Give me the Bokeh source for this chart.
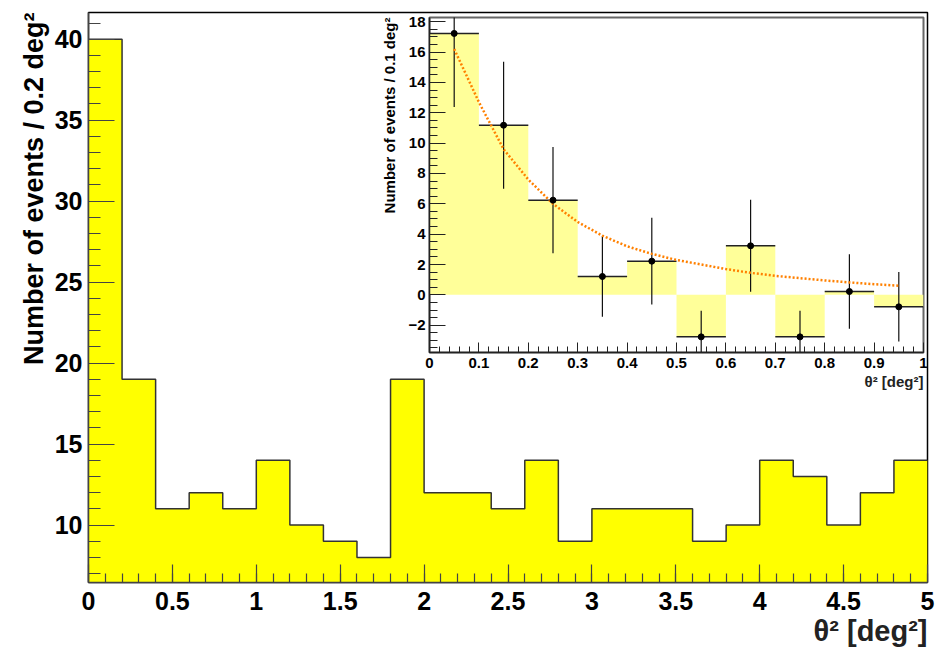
from bokeh.plotting import figure
from bokeh.models import Range1d, Title, FixedTicker, GridBox
from bokeh.embed import file_html
from bokeh.resources import INLINE

# ---------------- data ----------------
main_bin_lo = [0.0, 0.2, 0.4, 0.6, 0.8, 1.0, 1.2, 1.4, 1.6, 1.8, 2.0, 2.2, 2.4,
               2.6, 2.8, 3.0, 3.2, 3.4, 3.6, 3.8, 4.0, 4.2, 4.4, 4.6, 4.8]
main_bin_hi = [0.2, 0.4, 0.6, 0.8, 1.0, 1.2, 1.4, 1.6, 1.8, 2.0, 2.2, 2.4, 2.6,
               2.8, 3.0, 3.2, 3.4, 3.6, 3.8, 4.0, 4.2, 4.4, 4.6, 4.8, 5.0]
main_counts = [40, 19, 11, 12, 11, 14, 10, 9, 8, 19, 12, 12, 11, 14, 9, 11, 11,
               11, 9, 10, 14, 13, 10, 12, 14]

main_xticks = [0, 0.5, 1, 1.5, 2, 2.5, 3, 3.5, 4, 4.5, 5]
main_xtick_labels = ["0", "0.5", "1", "1.5", "2", "2.5", "3", "3.5", "4", "4.5", "5"]
main_yticks = [10, 15, 20, 25, 30, 35, 40]

inset_bin_lo = [0.0, 0.1, 0.2, 0.3, 0.4, 0.5, 0.6, 0.7, 0.8, 0.9]
inset_bin_hi = [0.1, 0.2, 0.3, 0.4, 0.5, 0.6, 0.7, 0.8, 0.9, 1.0]
inset_centers = [0.05, 0.15, 0.25, 0.35, 0.45, 0.55, 0.65, 0.75, 0.85, 0.95]
inset_values = [17.23, 11.18, 6.24, 1.21, 2.22, -2.77, 3.23, -2.77, 0.22, -0.79]
inset_errors = [4.85, 4.18, 3.50, 2.65, 2.86, 1.73, 3.03, 1.73, 2.45, 2.29]

fit_x = [0.05, 0.10, 0.15, 0.20, 0.25, 0.30, 0.35, 0.40, 0.45, 0.50, 0.55,
         0.60, 0.65, 0.70, 0.75, 0.80, 0.85, 0.90, 0.95]
fit_y = [16.2, 12.7, 9.6, 7.6, 6.0, 4.8, 3.9, 3.2, 2.7, 2.3, 2.0, 1.7, 1.45,
         1.25, 1.1, 0.95, 0.82, 0.70, 0.60]

inset_xticks = [0, 0.1, 0.2, 0.3, 0.4, 0.5, 0.6, 0.7, 0.8, 0.9, 1.0]
inset_xtick_labels = ["0", "0.1", "0.2", "0.3", "0.4", "0.5", "0.6", "0.7", "0.8", "0.9", "1"]
inset_yticks = [-2, 0, 2, 4, 6, 8, 10, 12, 14, 16, 18]

FONT = "Liberation Sans"
AXIS_COL = "#444444"

# ---------------- main figure ----------------
p = figure(frame_width=839, frame_height=570,
           min_border_left=88, min_border_top=12, min_border_right=15, min_border_bottom=66,
           x_range=Range1d(0, 5), y_range=Range1d(6.45, 41.65),
           output_backend="svg", toolbar_location=None,
           outline_line_color="black", outline_line_width=1.5,
           frame_align=False)
p.xgrid.visible = False
p.ygrid.visible = False

step_x = main_bin_lo + [main_bin_hi[-1]]
step_y = main_counts + [main_counts[-1]]
p.varea_step(x=step_x, y1=[0] * len(step_x), y2=step_y, step_mode="after",
             fill_color="#ffff00")
p.step(x=step_x, y=step_y, mode="after", line_color="#333333", line_width=1.5)

minor_x = [i / 10 for i in range(0, 51)]
p.xaxis.ticker = FixedTicker(ticks=main_xticks, minor_ticks=minor_x)
p.xaxis.major_label_overrides = {t: l for t, l in zip(main_xticks, main_xtick_labels)}
p.yaxis.ticker = FixedTicker(ticks=main_yticks, minor_ticks=list(range(6, 42)))

for ax in (p.xaxis[0], p.yaxis[0]):
    ax.axis_line_color = AXIS_COL
    ax.axis_line_width = 1.5
    ax.major_tick_line_color = AXIS_COL
    ax.minor_tick_line_color = AXIS_COL
    ax.major_tick_line_width = 1.2
    ax.minor_tick_line_width = 1.2
    ax.major_tick_out = 0
    ax.minor_tick_out = 0
    ax.major_label_text_font = FONT
    ax.major_label_text_font_style = "bold"
    ax.major_label_text_font_size = "25px"
    ax.major_label_text_color = "black"

p.yaxis.major_tick_in = 26
p.yaxis.minor_tick_in = 12
p.yaxis.major_label_standoff = 6
p.xaxis.major_tick_in = 18
p.xaxis.minor_tick_in = 9
p.xaxis.major_label_standoff = 9

p.add_layout(Title(text="Number of events / 0.2 deg²", align="right",
                   text_font=FONT, text_font_style="bold", text_font_size="27px",
                   text_color="black", standoff=6), "left")
p.add_layout(Title(text="θ² [deg²]", align="right",
                   text_font=FONT, text_font_style="bold", text_font_size="29px",
                   text_color="#222222", standoff=0), "below")

# ---------------- inset figure ----------------
q = figure(frame_width=494, frame_height=335,
           min_border_left=429, min_border_top=17, min_border_right=19, min_border_bottom=296,
           x_range=Range1d(0, 1), y_range=Range1d(-3.8, 18.28),
           output_backend="svg", toolbar_location=None,
           background_fill_alpha=0, border_fill_alpha=0,
           outline_line_color="#666666", outline_line_width=2,
           frame_align=False)
q.xgrid.visible = False
q.ygrid.visible = False

ix = inset_bin_lo + [inset_bin_hi[-1]]
iy = inset_values + [inset_values[-1]]
q.varea_step(x=ix, y1=[0] * len(ix), y2=iy, step_mode="after", fill_color="#ffff99")
err_lo = [v - e for v, e in zip(inset_values, inset_errors)]
err_hi = [v + e for v, e in zip(inset_values, inset_errors)]
q.segment(x0=inset_bin_lo, x1=inset_bin_hi, y0=inset_values, y1=inset_values,
          line_color="#222222", line_width=1.5)
q.segment(x0=inset_centers, x1=inset_centers, y0=err_lo, y1=err_hi,
          line_color="#111111", line_width=1.2)
q.line(fit_x, fit_y, line_color="#ff8000", line_width=2.5, line_dash="2 2")
q.scatter(inset_centers, inset_values, size=6, color="black")

q.xaxis.ticker = FixedTicker(ticks=inset_xticks, minor_ticks=[i / 50 for i in range(0, 51)])
q.xaxis.major_label_overrides = {t: l for t, l in zip(inset_xticks, inset_xtick_labels)}
q.yaxis.ticker = FixedTicker(ticks=inset_yticks, minor_ticks=[i / 2 for i in range(-7, 37)])

for ax in (q.xaxis[0], q.yaxis[0]):
    ax.axis_line_color = "#222222"
    ax.axis_line_width = 1.5
    ax.major_tick_line_color = "#222222"
    ax.minor_tick_line_color = "#222222"
    ax.major_tick_out = 0
    ax.minor_tick_out = 0
    ax.major_label_text_font = FONT
    ax.major_label_text_font_style = "bold"
    ax.major_label_text_font_size = "15px"
    ax.major_label_text_color = "black"

q.yaxis.major_tick_in = 16
q.yaxis.minor_tick_in = 8
q.yaxis.major_label_standoff = 4
q.xaxis.major_tick_in = 10
q.xaxis.minor_tick_in = 6
q.xaxis.major_label_standoff = 5

q.add_layout(Title(text="Number of events / 0.1 deg²", align="right",
                   text_font=FONT, text_font_style="bold", text_font_size="15px",
                   text_color="black", standoff=16), "left")
q.add_layout(Title(text="θ² [deg²]", align="right",
                   text_font=FONT, text_font_style="bold", text_font_size="15px",
                   text_color="#222222", standoff=0), "below")

layout = GridBox(children=[(p, 0, 0), (q, 0, 0)], spacing=0)

open("out.html", "w").write(file_html(layout, INLINE))
